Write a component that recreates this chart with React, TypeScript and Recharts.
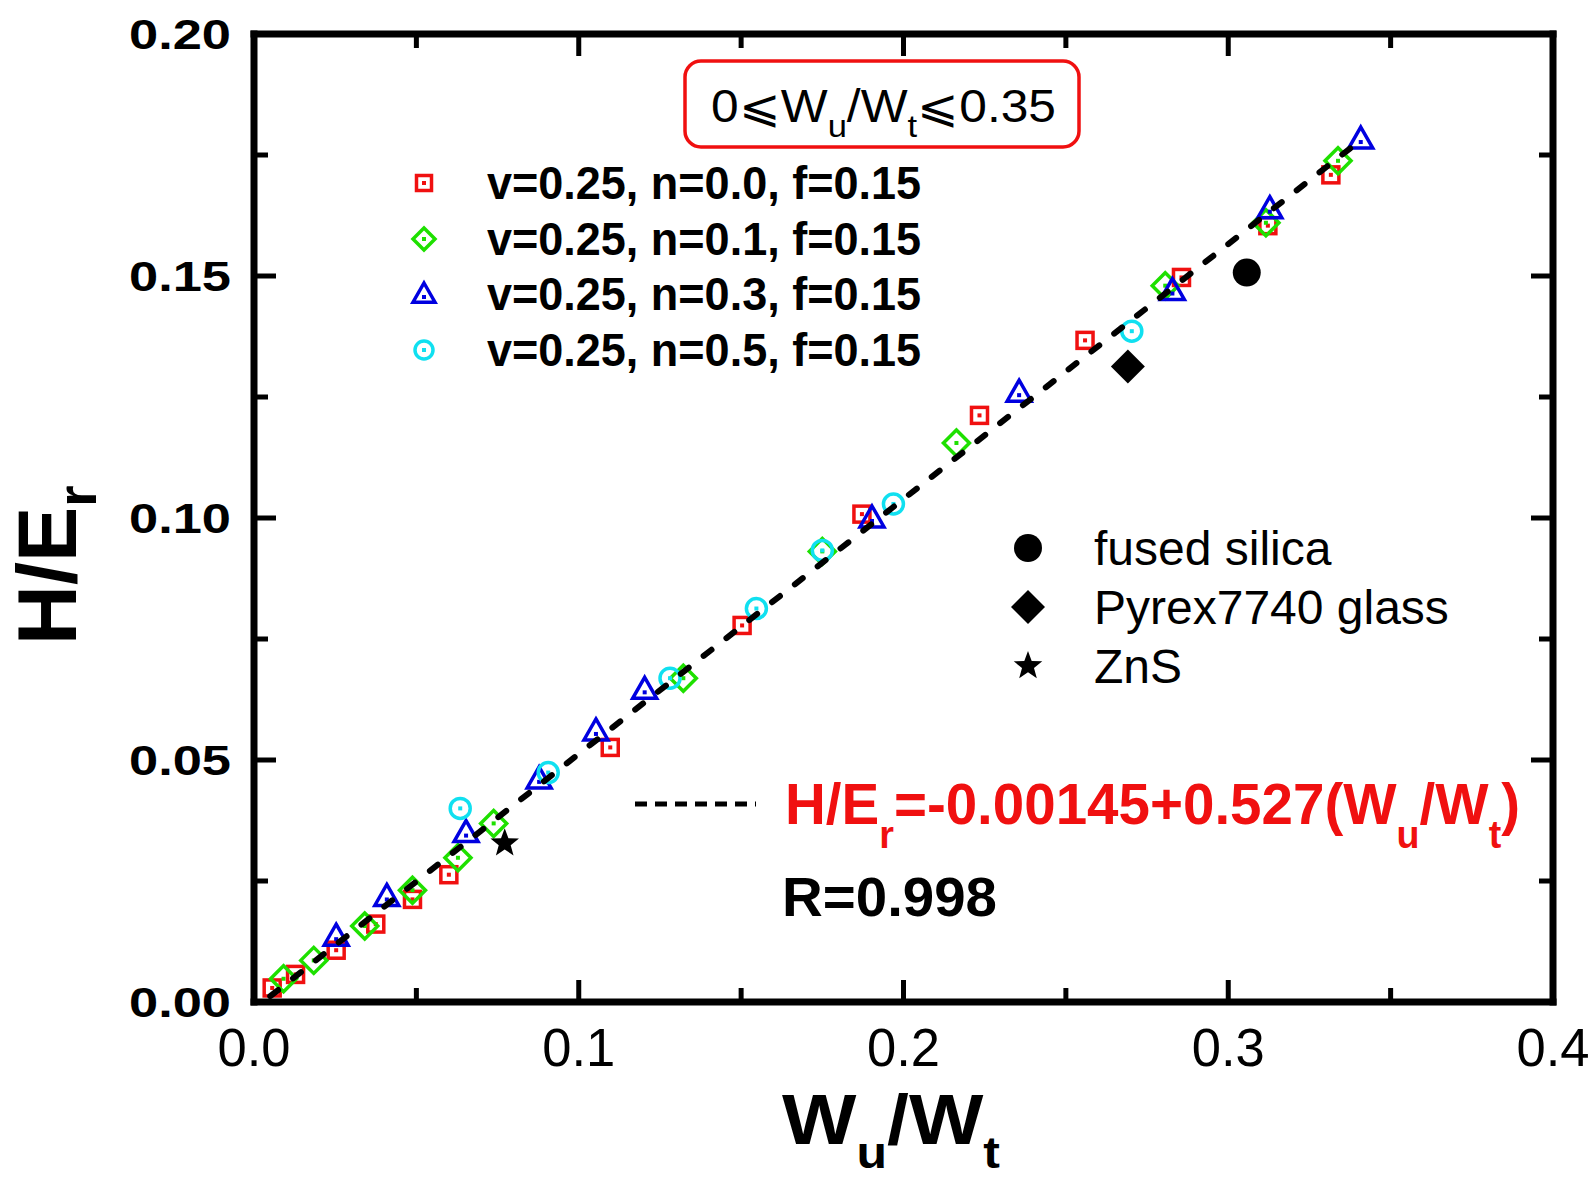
import { ScatterChart, Scatter, XAxis, YAxis } from 'recharts';

// simulated series, v=0.25, f=0.15
const seriesN00 = [
  { x: 0.0056, y: 0.0029 }, { x: 0.0128, y: 0.0057 }, { x: 0.0253, y: 0.0107 },
  { x: 0.0375, y: 0.0161 }, { x: 0.0488, y: 0.0212 }, { x: 0.0600, y: 0.0263 },
  { x: 0.1097, y: 0.0526 }, { x: 0.1503, y: 0.0778 }, { x: 0.1872, y: 0.1008 },
  { x: 0.2234, y: 0.1212 }, { x: 0.2559, y: 0.1367 }, { x: 0.2856, y: 0.1497 },
  { x: 0.3122, y: 0.1604 }, { x: 0.3316, y: 0.1709 },
];
const seriesN01 = [
  { x: 0.0091, y: 0.0048 }, { x: 0.0184, y: 0.0086 }, { x: 0.0341, y: 0.0157 },
  { x: 0.0488, y: 0.0231 }, { x: 0.0628, y: 0.0298 }, { x: 0.0738, y: 0.0369 },
  { x: 0.1322, y: 0.0669 }, { x: 0.1750, y: 0.0931 }, { x: 0.2163, y: 0.1155 },
  { x: 0.2806, y: 0.1480 }, { x: 0.3116, y: 0.1610 }, { x: 0.3338, y: 0.1738 },
];
const seriesN03 = [
  { x: 0.0253, y: 0.0136 }, { x: 0.0409, y: 0.0218 }, { x: 0.0653, y: 0.0350 },
  { x: 0.0878, y: 0.0461 }, { x: 0.1053, y: 0.0560 }, { x: 0.1203, y: 0.0646 },
  { x: 0.1903, y: 0.1000 }, { x: 0.2356, y: 0.1260 }, { x: 0.2828, y: 0.1470 },
  { x: 0.3128, y: 0.1639 }, { x: 0.3408, y: 0.1783 },
];
const seriesN05 = [
  { x: 0.0635, y: 0.0400 }, { x: 0.0906, y: 0.0474 }, { x: 0.1281, y: 0.0669 },
  { x: 0.1547, y: 0.0813 }, { x: 0.1750, y: 0.0933 }, { x: 0.1969, y: 0.1029 },
  { x: 0.2703, y: 0.1386 },
];
// experiments
const fusedSilica = [{ x: 0.3057, y: 0.1507 }];
const pyrex = [{ x: 0.2691, y: 0.1313 }];
const zns = [{ x: 0.0772, y: 0.0328 }];
// fitted line end points
const fitLine = [{ x: 0.005, y: 0.0012 }, { x: 0.341, y: 0.1782 }];

const seriesLabels = ['v=0.25, n=0.0, f=0.15', 'v=0.25, n=0.1, f=0.15', 'v=0.25, n=0.3, f=0.15', 'v=0.25, n=0.5, f=0.15'];
const expLabels = ['fused silica', 'Pyrex7740 glass', 'ZnS'];

const xTicks = [0, 0.05, 0.1, 0.15, 0.2, 0.25, 0.3, 0.35, 0.4];
const xTickLabels = ['0.0', '', '0.1', '', '0.2', '', '0.3', '', '0.4'];
const yTicks = [0, 0.025, 0.05, 0.075, 0.1, 0.125, 0.15, 0.175, 0.2];
const yTickLabels = ['0.00', '', '0.05', '', '0.10', '', '0.15', '', '0.20'];

const FONT = '"Liberation Sans", Arial, sans-serif';
const RED = '#f01010';
const GREEN = '#1ee000';
const BLUE = '#0000e0';
const CYAN = '#10e0f0';
const MAJOR = 22;
const MINOR = 14;

function SquareMark({ cx, cy, s = 16 }: any) {
  return (
    <g>
      <rect x={cx - s / 2} y={cy - s / 2} width={s} height={s} fill="none" stroke={RED} strokeWidth={3.5} />
      <rect x={cx - 2} y={cy - 2} width={4} height={4} fill={RED} />
    </g>
  );
}
function DiamondMark({ cx, cy, s = 12 }: any) {
  return (
    <g>
      <polygon points={`${cx},${cy - s} ${cx + s},${cy} ${cx},${cy + s} ${cx - s},${cy}`} fill="none" stroke={GREEN} strokeWidth={3.5} />
      <rect x={cx - 2} y={cy - 2} width={4} height={4} fill={GREEN} />
    </g>
  );
}
function TriangleMark({ cx, cy, s = 12 }: any) {
  return (
    <g>
      <polygon points={`${cx},${cy - s} ${cx + s},${cy + s * 0.75} ${cx - s},${cy + s * 0.75}`} fill="none" stroke={BLUE} strokeWidth={3.5} />
      <rect x={cx - 2} y={cy + 1} width={4} height={4} fill={BLUE} />
    </g>
  );
}
function CircleMark({ cx, cy, r = 10 }: any) {
  return (
    <g>
      <circle cx={cx} cy={cy} r={r} fill="none" stroke={CYAN} strokeWidth={3.5} />
      <rect x={cx - 2} y={cy - 2} width={4} height={4} fill={CYAN} />
    </g>
  );
}
function DotMark({ cx, cy, r = 14 }: any) {
  return <circle cx={cx} cy={cy} r={r} fill="#000" />;
}
function SolidDiamond({ cx, cy, s = 17 }: any) {
  return <polygon points={`${cx},${cy - s} ${cx + s},${cy} ${cx},${cy + s} ${cx - s},${cy}`} fill="#000" />;
}
function StarMark({ cx, cy, r = 15 }: any) {
  const pts: string[] = [];
  for (let i = 0; i < 10; i++) {
    const rr = i % 2 === 0 ? r : r * 0.42;
    const a = -Math.PI / 2 + (i * Math.PI) / 5;
    pts.push(`${cx + rr * Math.cos(a)},${cy + rr * Math.sin(a)}`);
  }
  return <polygon points={pts.join(' ')} fill="#000" />;
}

const BottomTick = ({ x, y, index }: any) => {
  const label = xTickLabels[index];
  return (
    <g>
      <line x1={x} x2={x} y1={y} y2={y - (label ? MAJOR : MINOR)} stroke="#000" strokeWidth={5} />
      {label && (
        <text x={x} y={y + 64} textAnchor="middle" fontFamily={FONT} fontSize={54} fill="#000" textLength={73} lengthAdjust="spacingAndGlyphs">
          {label}
        </text>
      )}
    </g>
  );
};
const TopTick = ({ x, y, index }: any) => (
  <line x1={x} x2={x} y1={y} y2={y + (xTickLabels[index] ? MAJOR : MINOR)} stroke="#000" strokeWidth={5} />
);
const LeftTick = ({ x, y, index }: any) => {
  const label = yTickLabels[index];
  return (
    <g>
      <line x1={x} x2={x + (label ? MAJOR : MINOR)} y1={y} y2={y} stroke="#000" strokeWidth={5} />
      {label && (
        <text x={231} y={y + 15} textAnchor="end" fontFamily={FONT} fontWeight="bold" fontSize={43} fill="#000" textLength={102} lengthAdjust="spacingAndGlyphs">
          {label}
        </text>
      )}
    </g>
  );
};
const RightTick = ({ x, y, index }: any) => (
  <line x1={x} x2={x - (yTickLabels[index] ? MAJOR : MINOR)} y1={y} y2={y} stroke="#000" strokeWidth={5} />
);

const axisLine = { stroke: '#000', strokeWidth: 7, strokeLinecap: 'square' as const };
const empty = () => <g />;

export default function App() {
  return (
    <div style={{ position: 'absolute', left: 0, top: 0, width: 1592, height: 1179, background: '#fff' }}>
      <ScatterChart width={1592} height={1179} margin={{ top: 33, right: 38, bottom: 0, left: 0 }}>
        <XAxis xAxisId="b" dataKey="x" type="number" domain={[0, 0.4]} ticks={xTicks} interval={0} orientation="bottom"
          height={177} tickSize={0} tickMargin={0} tickLine={false} axisLine={axisLine} tick={BottomTick} />
        <XAxis xAxisId="t" dataKey="x" type="number" domain={[0, 0.4]} ticks={xTicks} interval={0} orientation="top"
          height={1} tickSize={0} tickMargin={0} tickLine={false} axisLine={axisLine} tick={TopTick} />
        <YAxis yAxisId="l" dataKey="y" type="number" domain={[0, 0.2]} ticks={yTicks} interval={0} orientation="left"
          width={254} tickSize={0} tickMargin={0} tickLine={false} axisLine={axisLine} tick={LeftTick} />
        <YAxis yAxisId="r" dataKey="y" type="number" domain={[0, 0.2]} ticks={yTicks} interval={0} orientation="right"
          width={1} tickSize={0} tickMargin={0} tickLine={false} axisLine={axisLine} tick={RightTick} />

        <Scatter xAxisId="t" yAxisId="r" data={fitLine} isAnimationActive={false} shape={empty} />
        <Scatter xAxisId="b" yAxisId="l" data={seriesN00} isAnimationActive={false} shape={(p: any) => <SquareMark cx={p.cx} cy={p.cy} s={16} />} />
        <Scatter xAxisId="b" yAxisId="l" data={seriesN01} isAnimationActive={false} shape={(p: any) => <DiamondMark cx={p.cx} cy={p.cy} s={13} />} />
        <Scatter xAxisId="b" yAxisId="l" data={seriesN03} isAnimationActive={false} shape={(p: any) => <TriangleMark cx={p.cx} cy={p.cy} s={12} />} />
        <Scatter xAxisId="b" yAxisId="l" data={seriesN05} isAnimationActive={false} shape={(p: any) => <CircleMark cx={p.cx} cy={p.cy} r={10} />} />
        <Scatter xAxisId="b" yAxisId="l" data={fusedSilica} isAnimationActive={false} shape={(p: any) => <DotMark cx={p.cx} cy={p.cy} r={14} />} />
        <Scatter xAxisId="b" yAxisId="l" data={pyrex} isAnimationActive={false} shape={(p: any) => <SolidDiamond cx={p.cx} cy={p.cy} s={17} />} />
        <Scatter xAxisId="b" yAxisId="l" data={zns} isAnimationActive={false} shape={(p: any) => <StarMark cx={p.cx} cy={p.cy} r={15} />} />
        <Scatter xAxisId="b" yAxisId="l" data={fitLine} isAnimationActive={false} shape={empty}
          line={{ stroke: '#000', strokeWidth: 6, strokeDasharray: '10 19', strokeLinecap: 'round' }} />
      </ScatterChart>

      <svg width={1592} height={1179} style={{ position: 'absolute', left: 0, top: 0, pointerEvents: 'none' }} fontFamily={FONT}>
        {/* range box */}
        <rect x={685} y={61} width={394} height={86} rx={16} fill="#fff" stroke={RED} strokeWidth={3.5} />
        <text x={711} y={122} fontSize={46} fill="#000" textLength={345} lengthAdjust="spacingAndGlyphs">
          0⩽W<tspan fontSize={32} dy={15}>u</tspan><tspan dy={-15}>/W</tspan><tspan fontSize={32} dy={15}>t</tspan><tspan dy={-15}>⩽0.35</tspan>
        </text>

        {/* series legend */}
        <SquareMark cx={424} cy={183} s={15} />
        <DiamondMark cx={424} cy={239} s={11} />
        <TriangleMark cx={424} cy={294} s={11} />
        <CircleMark cx={424} cy={350} r={9} />
        {seriesLabels.map((t, i) => (
          <text key={t} x={487} y={[183, 239, 294, 350][i] + 16} fontSize={46} fontWeight="bold" fill="#000" textLength={434} lengthAdjust="spacingAndGlyphs">
            {t}
          </text>
        ))}

        {/* experiment legend */}
        <DotMark cx={1028} cy={548} r={14} />
        <SolidDiamond cx={1028} cy={607} s={17} />
        <StarMark cx={1028} cy={666} r={15} />
        {expLabels.map((t, i) => (
          <text key={t} x={1094} y={[548, 607, 666][i] + 17} fontSize={48} fill="#000">
            {t}
          </text>
        ))}

        {/* fit equation */}
        <line x1={635} x2={756} y1={804} y2={804} stroke="#000" strokeWidth={5} strokeDasharray="12 8" />
        <text x={785} y={824} fontSize={57} fontWeight="bold" fill={RED} textLength={735} lengthAdjust="spacingAndGlyphs">
          H/E<tspan fontSize={38} dy={24}>r</tspan><tspan dy={-24}>=-0.00145+0.527(W</tspan><tspan fontSize={38} dy={24}>u</tspan><tspan dy={-24}>/W</tspan><tspan fontSize={38} dy={24}>t</tspan><tspan dy={-24}>)</tspan>
        </text>
        <text x={782} y={916} fontSize={56} fontWeight="bold" fill="#000" textLength={215} lengthAdjust="spacingAndGlyphs">R=0.998</text>

        {/* axis titles */}
        <text x={782} y={1144} fontSize={71} fontWeight="bold" fill="#000" textLength={218} lengthAdjust="spacingAndGlyphs">
          W<tspan fontSize={45} dy={24}>u</tspan><tspan dy={-24}>/W</tspan><tspan fontSize={45} dy={24}>t</tspan>
        </text>
        <text transform="translate(76,645) rotate(-90)" fontSize={83} fontWeight="bold" fill="#000">
          H/E<tspan fontSize={55} dy={20}>r</tspan>
        </text>
      </svg>
    </div>
  );
}
